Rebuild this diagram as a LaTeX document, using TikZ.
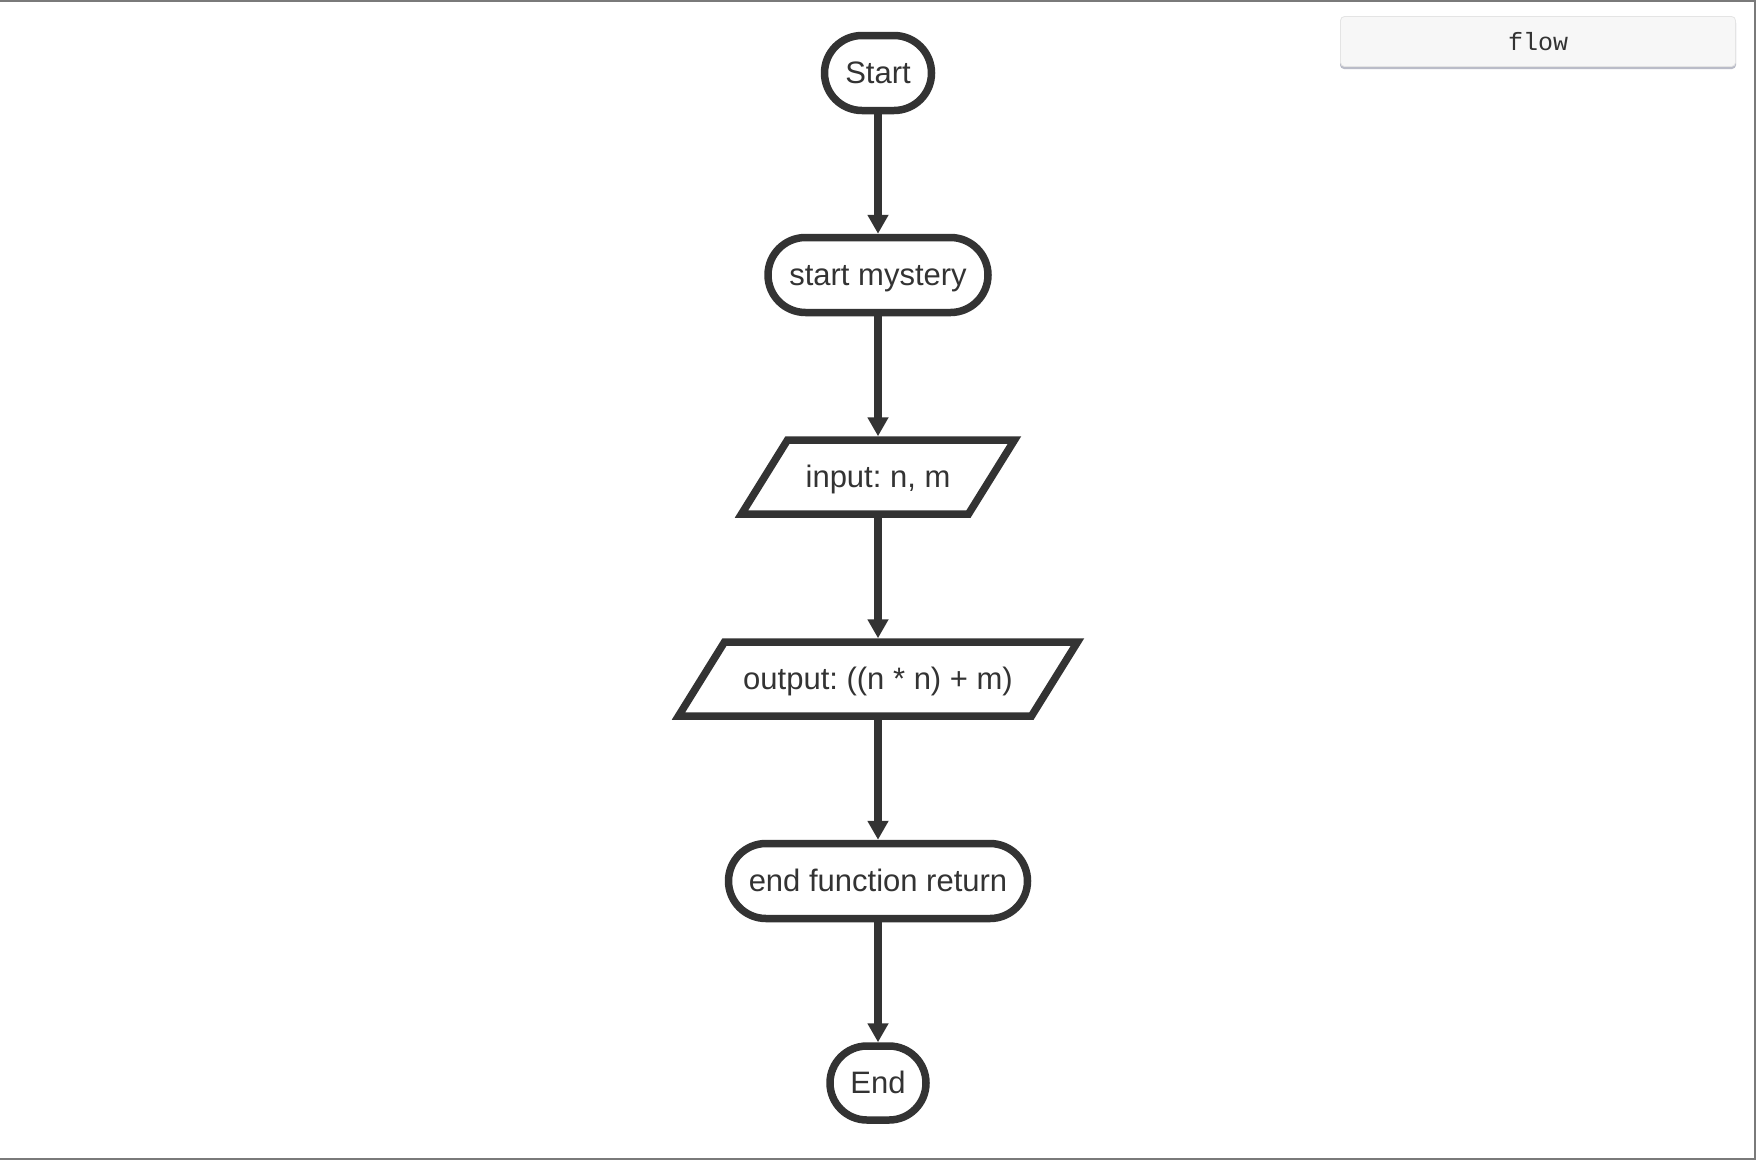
\documentclass[tikz,border=0pt]{standalone}
\usepackage{fontspec}
\setmainfont{Liberation Sans}
\newfontfamily\codefont{Liberation Mono}
\usetikzlibrary{shapes.misc,arrows.meta}
\frenchspacing
\definecolor{ink}{HTML}{333333}
\definecolor{framegray}{HTML}{7A7A7A}
\definecolor{btnfill}{HTML}{F7F7F7}
\definecolor{btnedge}{HTML}{E4E4E4}
\definecolor{btnshadow}{HTML}{BABCC8}
\tikzset{
  flowline/.style={draw=ink, line width=7.5pt, line join=miter},
  flowtext/.style={text=ink, font=\fontsize{31}{37}\selectfont,
    text height=20pt, text depth=0pt},
  terminal/.style={flowline, flowtext, rounded rectangle,
    minimum height=75pt, inner xsep=4pt, inner ysep=0pt},
  % invisible body of an input/output box; the slanted outline is drawn separately
  iobody/.style={flowtext, rectangle, minimum height=74pt,
    inner sep=0pt, outer sep=0pt},
  link/.style={draw=ink, line width=7.5pt,
    -{Triangle[width=20pt,length=19pt]}},
}
% slanted outline around an iobody node
\newcommand\ioframe[1]{%
  \draw[flowline] ([xshift=-23pt]#1.south west) -- ([xshift=23pt]#1.north west)
    -- ([xshift=23pt]#1.north east) -- ([xshift=-23pt]#1.south east) -- cycle;}
\begin{document}
\begin{tikzpicture}[x=1pt,y=-1pt]
  \useasboundingbox (0,0) rectangle (1756,1160);
  \fill[white] (0,0) rectangle (1756,1160);
  % frame on top, right and bottom
  \draw[framegray, line width=2pt] (0,1) -- (1754.5,1) -- (1754.5,1159) -- (0,1159);

  % "flow" button in the corner
  \fill[btnshadow, rounded corners=4pt] (1340,19) rectangle (1736,69);
  \node[draw=btnedge, line width=0.8pt, fill=btnfill, rounded corners=4pt,
        minimum width=395pt, minimum height=50pt, inner sep=0pt,
        text=ink, font=\codefont\fontsize{25}{30}\selectfont]
        (btn) at (1538,41.5) {flow};

  % flowchart
  \node[terminal, minimum width=115pt] (start) at (878,73) {Start};
  \node[terminal, minimum width=228pt] (mystery) at (878,275) {start mystery};
  \node[iobody, minimum width=227pt] (input) at (878,477) {input: n, m};
  \ioframe{input}
  \node[iobody, minimum width=353pt] (output) at (878,679) {output: ((n * n) + m)};
  \ioframe{output}
  \node[terminal, minimum width=307pt] (ret) at (878,881) {end function return};
  \node[terminal, minimum width=104pt, minimum height=74pt] (end) at (878,1083) {End};

  \draw[link] (start.south) -- (mystery.north);
  \draw[link] (mystery.south) -- ([yshift=3.75pt]input.north);
  \draw[link] ([yshift=-3.75pt]input.south) -- ([yshift=3.75pt]output.north);
  \draw[link] ([yshift=-3.75pt]output.south) -- (ret.north);
  \draw[link] (ret.south) -- (end.north);
\end{tikzpicture}
\end{document}
